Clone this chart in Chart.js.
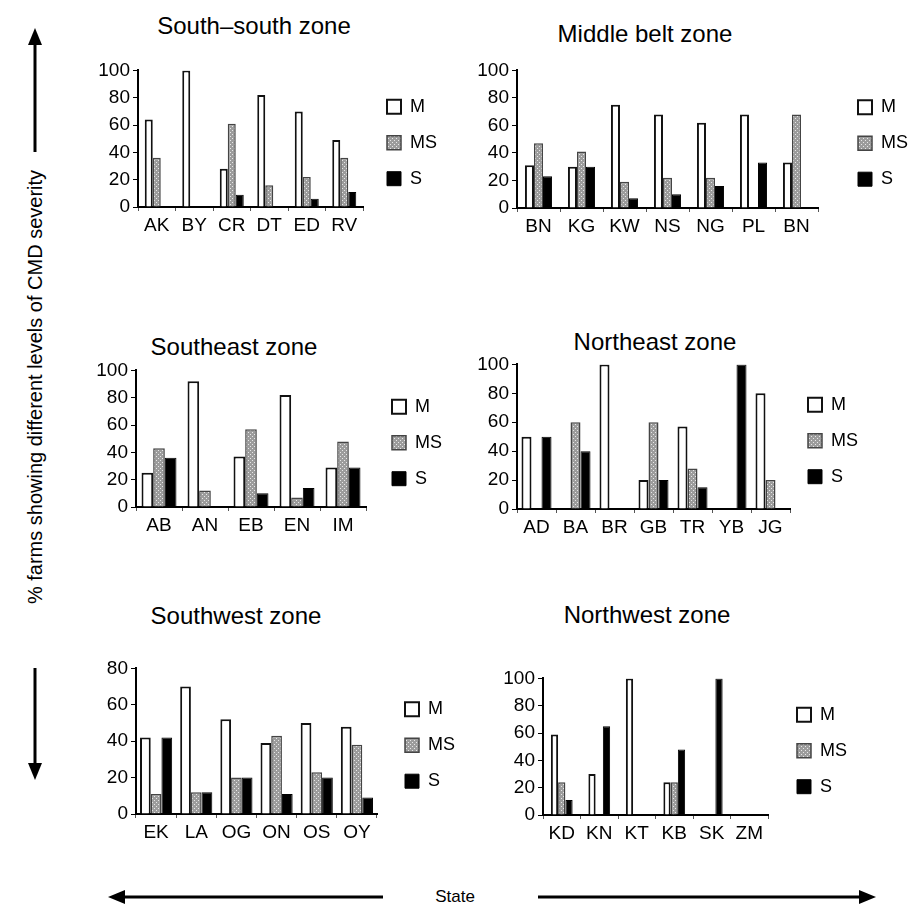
<!DOCTYPE html>
<html>
<head>
<meta charset="utf-8">
<script src="https://cdn.jsdelivr.net/npm/chart.js@4.4.1/dist/chart.umd.min.js"></script>
<style>
body{margin:0;background:#fff;width:908px;height:914px;position:relative;overflow:hidden;font-family:"Liberation Sans",Arial,sans-serif;color:#000;}
.ttl{position:absolute;font-size:24px;transform:translate(-50%,-50%);white-space:nowrap;}
.ylab{position:absolute;left:35px;top:387px;font-size:20px;white-space:nowrap;transform:translate(-50%,-50%) rotate(-90deg);}
.xlab{position:absolute;left:455px;top:897px;font-size:17px;transform:translate(-50%,-50%);}
svg{position:absolute;left:0;top:0;}
</style>
</head>
<body>
<svg width="908" height="914">
  <g stroke="#000" stroke-width="3" fill="#000">
    <line x1="35" y1="42" x2="35" y2="152"/>
    <polygon points="35,28 28,45 42,45" stroke="none"/>
    <line x1="35" y1="668" x2="35" y2="766"/>
    <polygon points="35,780 28,763 42,763" stroke="none"/>
    <line x1="122" y1="897" x2="383" y2="897"/>
    <polygon points="108,897 125,890 125,904" stroke="none"/>
    <line x1="538" y1="897" x2="862" y2="897"/>
    <polygon points="876,897 859,890 859,904" stroke="none"/>
  </g>
</svg>
<div class="ylab">% farms showing different levels of CMD severity</div>
<div class="xlab">State</div>
<script>
// severity classes: M = mild, MS = moderately severe, S = severe
const ssStates = ['AK','BY','CR','DT','ED','RV'];
const ssM  = [64, 100, 28, 82, 70, 49];
const ssMS = [36, 0, 61, 16, 22, 36];
const ssS  = [0, 0, 9, 0, 6, 11];

const mbStates = ['BN','KG','KW','NS','NG','PL','BN'];
const mbM  = [31, 30, 75, 68, 62, 68, 33];
const mbMS = [47, 41, 19, 22, 22, 0, 68];
const mbS  = [23, 30, 7, 10, 16, 33, 0];

const seStates = ['AB','AN','EB','EN','IM'];
const seM  = [25, 92, 37, 82, 29];
const seMS = [43, 12, 57, 7, 48];
const seS  = [36, 0, 10, 14, 29];

const neStates = ['AD','BA','BR','GB','TR','YB','JG'];
const neM  = [50, 0, 100, 20, 57, 0, 80];
const neMS = [0, 60, 0, 60, 28, 0, 20];
const neS  = [50, 40, 0, 20, 15, 100, 0];

const swStates = ['EK','LA','OG','ON','OS','OY'];
const swM  = [42, 70, 52, 39, 50, 48];
const swMS = [11, 12, 20, 43, 23, 38];
const swS  = [42, 12, 20, 11, 20, 9];

const nwStates = ['KD','KN','KT','KB','SK','ZM'];
const nwM  = [59, 30, 100, 24, 0, 0];
const nwMS = [24, 0, 0, 24, 0, 0];
const nwS  = [11, 65, 0, 48, 100, 0];

const FONT = '"Liberation Sans", Arial, sans-serif';
const YW = 52, XH = 32, TOP = 14, LW = 75;

function dotted() {
  const c = document.createElement('canvas');
  c.width = 4; c.height = 4;
  const g = c.getContext('2d');
  g.fillStyle = '#9c9c9c';
  g.fillRect(0, 0, 4, 4);
  g.fillStyle = '#e8e8e8';
  g.fillRect(0, 0, 1, 1);
  g.fillRect(2, 2, 1, 1);
  return g.createPattern(c, 'repeat');
}
const msFill = dotted();

// nudge the legend box away from the plot, as in the original figure
const legendShift = {
  id: 'legendShift',
  afterLayout(chart, args, opts) {
    const L = chart.legend;
    if (!L) return;
    L.left += opts.dx; L.right += opts.dx;
    L.top += opts.dy; L.bottom += opts.dy;
  }
};

function panel(p) {
  const plotW = p.r - p.l, plotH = p.b - p.t;
  const dx = Math.max(0, p.legX - p.r - 18);
  const padR = dx + 12;
  const w = YW + plotW + LW + padR;
  const h = TOP + plotH + XH;

  const t = document.createElement('div');
  t.className = 'ttl';
  t.style.left = p.tx + 'px';
  t.style.top = p.ty + 'px';
  t.textContent = p.title;
  document.body.appendChild(t);

  const cv = document.createElement('canvas');
  cv.width = w; cv.height = h;
  cv.style.position = 'absolute';
  cv.style.left = (p.l - YW) + 'px';
  cv.style.top = (p.t - TOP) + 'px';
  document.body.appendChild(cv);

  new Chart(cv, {
    type: 'bar',
    data: {
      labels: p.labels,
      datasets: [
        {label: 'M', data: p.m, backgroundColor: '#fff', borderColor: '#111', borderWidth: 2},
        {label: 'MS', data: p.ms, backgroundColor: msFill, borderColor: '#444', borderWidth: 1.5},
        {label: 'S', data: p.s, backgroundColor: '#000', borderColor: '#000', borderWidth: 1}
      ]
    },
    options: {
      responsive: false,
      animation: false,
      datasets: {bar: {barPercentage: 1, categoryPercentage: p.cp}},
      layout: {padding: {top: TOP, right: padR, left: 0, bottom: 0}},
      plugins: {
        legend: {
          position: 'right', align: 'center', fullSize: false, maxWidth: LW,
          labels: {boxWidth: 14, boxHeight: 14, padding: 18, color: '#000', font: {size: 18, family: FONT}}
        },
        tooltip: {enabled: false},
        legendShift: {dx: dx, dy: 4}
      },
      scales: {
        x: {
          grid: {drawOnChartArea: false, tickLength: 4, color: '#555'},
          border: {color: '#000', width: 2},
          ticks: {color: '#000', font: {size: 19, family: FONT}, padding: 3, maxRotation: 0, autoSkip: false},
          afterFit(s) { s.height = XH; }
        },
        y: {
          min: 0, max: p.max,
          ticks: {stepSize: 20, color: '#000', font: {size: 19, family: FONT}, padding: 3},
          grid: {drawOnChartArea: false, tickLength: 5, color: '#000'},
          border: {color: '#000', width: 2},
          afterFit(s) { s.width = YW; }
        }
      }
    },
    plugins: [legendShift]
  });
}

panel({title: 'South\u2013south zone', tx: 254, ty: 26, l: 138, t: 70, r: 363, b: 207, legX: 387, cp: 0.64, max: 100,
  labels: ssStates, m: ssM, ms: ssMS, s: ssS});
panel({title: 'Middle belt zone', tx: 645, ty: 34, l: 517, t: 70, r: 818, b: 208, legX: 858, cp: 0.63, max: 100,
  labels: mbStates, m: mbM, ms: mbMS, s: mbS});
panel({title: 'Southeast zone', tx: 234, ty: 347, l: 136, t: 370, r: 366, b: 507, legX: 392, cp: 0.76, max: 100,
  labels: seStates, m: seM, ms: seMS, s: seS});
panel({title: 'Northeast zone', tx: 655, ty: 342, l: 517, t: 364, r: 790, b: 509, legX: 805, cp: 0.77, max: 100,
  labels: neStates, m: neM, ms: neMS, s: neS});
panel({title: 'Southwest zone', tx: 236, ty: 616, l: 136, t: 668, r: 377, b: 814, legX: 405, cp: 0.8, max: 80,
  labels: swStates, m: swM, ms: swMS, s: swS});
panel({title: 'Northwest zone', tx: 647, ty: 615, l: 543, t: 678, r: 768, b: 815, legX: 797, cp: 0.58, max: 100,
  labels: nwStates, m: nwM, ms: nwMS, s: nwS});
</script>
</body>
</html>
